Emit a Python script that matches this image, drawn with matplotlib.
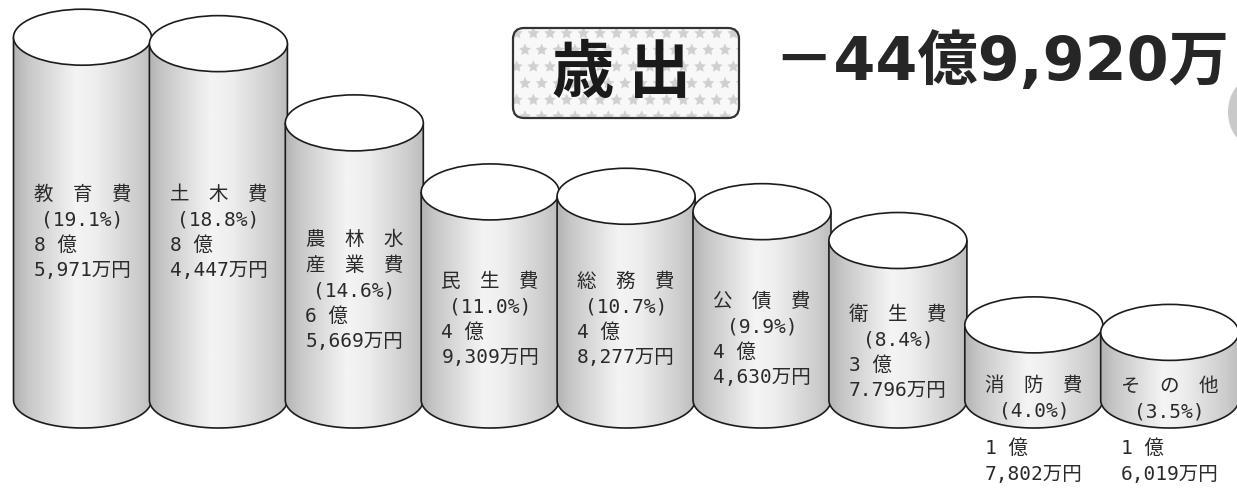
import numpy as np
import matplotlib
matplotlib.use("Agg")
import matplotlib.pyplot as plt
from matplotlib.patches import Ellipse, PathPatch, FancyBboxPatch
from matplotlib.path import Path

# ---------------- data ----------------
categories = ["教　育　費", "土　木　費", "農　林　水\n産　業　費", "民　生　費", "総　務　費",
              "公　債　費", "衛　生　費", "消　防　費", "そ　の　他"]
amount_oku = [8, 8, 6, 4, 4, 4, 3, 1, 1]
amount_man = [5971, 4447, 5669, 9309, 8277, 4630, 7796, 7802, 6019]
shares = [19.1, 18.8, 14.6, 11.0, 10.7, 9.9, 8.4, 4.0, 3.5]
amount_labels = ["5,971万円", "4,447万円", "5,669万円", "9,309万円", "8,277万円",
                 "4,630万円", "7.796万円", "7,802万円", "6,019万円"]
title_label = "歳 出"
total_label = "－44億9,920万"

values = [o + m / 10000 for o, m in zip(amount_oku, amount_man)]

# ---------------- layout / style ----------------
W, H = 1237, 492
STEP_PX = 135.9          # px per category
C0_PX = 82.5             # px of first centre
BASE_PX = 400            # px (from top) of value 0
UNIT_PX = 42.2           # px per 億
HALF_W = 69 / STEP_PX    # cylinder half width (data units)
HALF_H = 28 / UNIT_PX    # ellipse half height (data units)
LINE_PX = 25.5
label_y = [4.74, 4.74, 3.67, 2.68, 2.68, 2.21, 1.90, 0.21, 0.19]   # first-line baseline
below_y = -1.28
INK = "#1c1c1c"
TXT = "#2a2a2a"
LBL_FONT = ["DejaVu Sans Mono", "Noto Sans CJK JP"]
LBL_SIZE = 14

fig = plt.figure(figsize=(W / 100, H / 100), dpi=100)
ax = fig.add_axes([0, 0, 1, 1])
x0 = -C0_PX / STEP_PX
y0 = -(H - BASE_PX) / UNIT_PX

u = np.linspace(0, 1, 256)
shade = np.interp(u, [0, 0.1, 0.45, 0.6, 0.9, 1.0], [0.70, 0.78, 0.955, 0.93, 0.80, 0.74])
grad = shade[np.newaxis, :]

t = np.linspace(np.pi, 2 * np.pi, 80)
for i, v in enumerate(values):
    z = 2 + i * 0.1
    xl, xr = i - HALF_W, i + HALF_W
    ax_ = i + HALF_W * np.cos(t)
    ay_ = HALF_H * np.sin(t)
    verts = [(xl, v), (xl, 0)] + list(zip(ax_, ay_)) + [(xr, v), (xl, v)]
    codes = [Path.MOVETO] + [Path.LINETO] * (len(verts) - 2) + [Path.CLOSEPOLY]
    clip = PathPatch(Path(verts, codes), fc="none", ec="none", zorder=z)
    ax.add_patch(clip)
    im = ax.imshow(grad, extent=[xl, xr, -HALF_H, v], aspect="auto", cmap="gray",
                   vmin=0, vmax=1, zorder=z, interpolation="bilinear")
    im.set_clip_path(clip)
    overts = [(xl, v), (xl, 0)] + list(zip(ax_, ay_)) + [(xr, v)]
    ocodes = [Path.MOVETO] + [Path.LINETO] * (len(overts) - 1)
    ax.add_patch(PathPatch(Path(overts, ocodes), fill=False, ec=INK, lw=1.2, zorder=z + 0.01))
    ax.add_patch(Ellipse((i, v), 2 * HALF_W, 2 * HALF_H, fc="white", ec=INK, lw=1.2,
                         zorder=z + 0.02))

# labels
for i, name in enumerate(categories):
    lines = name.split("\n") + [f"({shares[i]:.1f}%)"]
    for k, ln in enumerate(lines):
        ax.annotate(ln, xy=(i, label_y[i]), xytext=(0, -k * LINE_PX), textcoords="offset pixels",
                    ha="center", va="baseline", family=LBL_FONT, fontsize=LBL_SIZE,
                    color=TXT, zorder=10)
    oku = f"{amount_oku[i]} 億"
    if values[i] > 3:
        amt = ax.annotate(amount_labels[i], xy=(i, label_y[i]),
                          xytext=(0, -(len(lines) + 1) * LINE_PX), textcoords="offset pixels",
                          ha="center", va="baseline", family=LBL_FONT, fontsize=LBL_SIZE,
                          color=TXT, zorder=10)
    else:
        amt = ax.annotate(amount_labels[i], xy=(i, below_y), xytext=(0, -LINE_PX),
                          textcoords="offset pixels", ha="center", va="baseline",
                          family=LBL_FONT, fontsize=LBL_SIZE, color=TXT, zorder=10)
    ax.annotate(oku, xy=(0, 0), xycoords=amt, xytext=(0, LINE_PX), textcoords="offset pixels",
                ha="left", va="bottom", family=LBL_FONT, fontsize=LBL_SIZE, color=TXT, zorder=10)

ax.set_xlim(x0, x0 + W / STEP_PX)
ax.set_ylim(y0, y0 + H / UNIT_PX)
ax.axis("off")

# ---------------- title (pixel overlay) ----------------
axp = fig.add_axes([0, 0, 1, 1], zorder=5)
axp.set_xlim(0, W)
axp.set_ylim(H, 0)
axp.axis("off")
axp.patch.set_alpha(0)

plt.rcParams["hatch.linewidth"] = 0.4
box_fill = FancyBboxPatch((513, 28), 226, 90, boxstyle="round,pad=0,rounding_size=11",
                          fc="#f8f8f8", ec="#d0d0d0", lw=0, hatch="*")
axp.add_patch(box_fill)
axp.add_patch(FancyBboxPatch((513, 28), 226, 90, boxstyle="round,pad=0,rounding_size=11",
                             fc="none", ec="#333333", lw=1.6))
axp.text(622, 74, title_label, ha="center", va="center", family="Noto Sans CJK JP",
         fontweight="bold", fontsize=45, color="#1a1a1a")
axp.text(1229, 63, total_label, ha="right", va="center",
         family=["DejaVu Sans", "Noto Sans CJK JP"], fontweight="bold", fontsize=43.5,
         color="#262626")
axp.add_patch(Ellipse((1252, 112), 48, 66, fc="#c9c9c9", ec="none"))

fig.savefig("out.png", dpi=100)
